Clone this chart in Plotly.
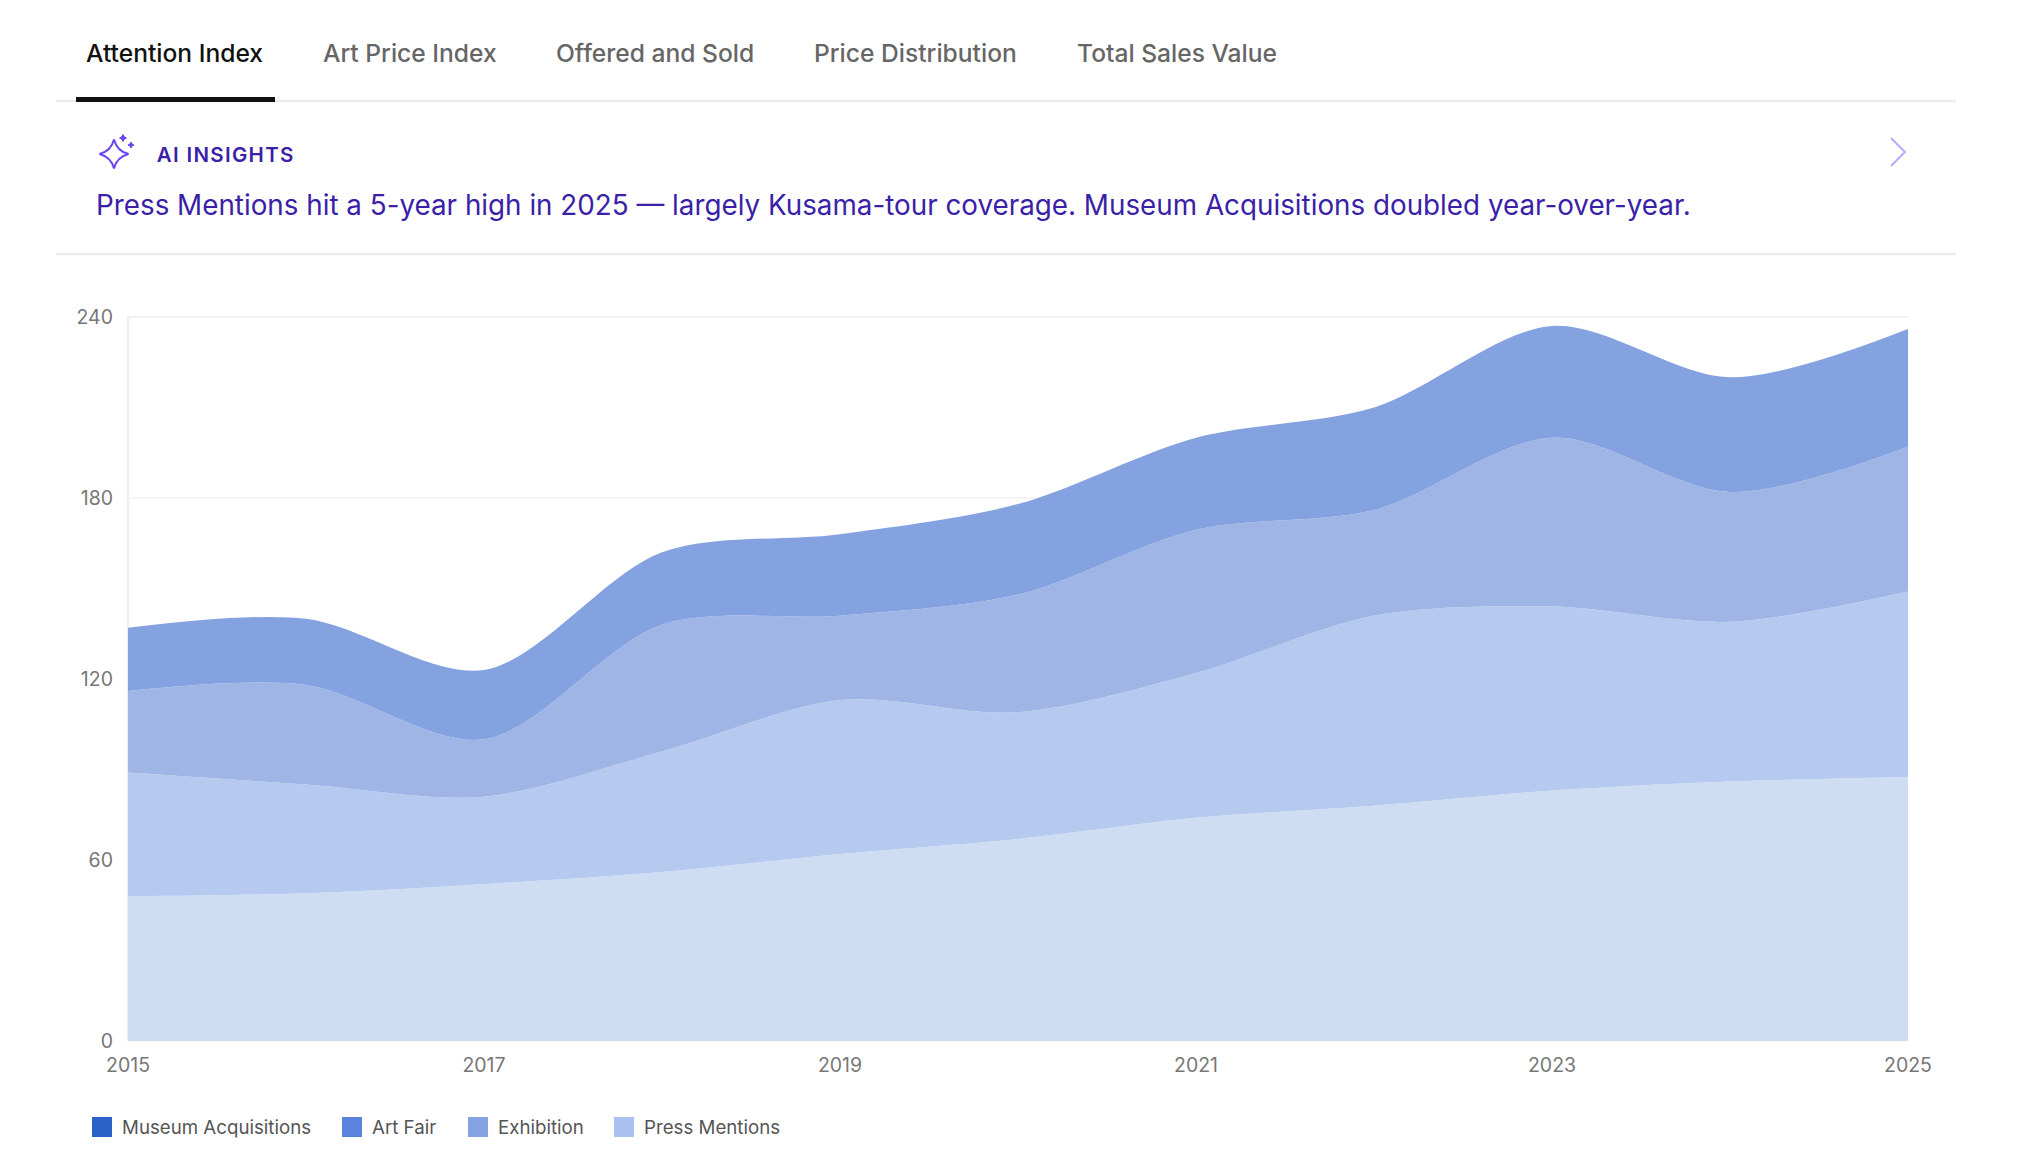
import plotly.graph_objects as go

years = [2015, 2016, 2017, 2018, 2019, 2020, 2021, 2022, 2023, 2024, 2025]
press_mentions = [48, 49, 52, 56, 62, 67, 74, 78, 83, 86, 87.5]
exhibition = [41, 36, 29, 40, 51, 42, 48, 63, 61, 53, 61.5]
art_fair = [27, 33, 19, 42, 28, 39, 47.5, 35, 56, 43, 48]
museum_acquisitions = [21, 22, 23, 24, 27, 30, 30.5, 34, 37, 38, 39]

series_names = ["Press Mentions", "Exhibition", "Art Fair", "Museum Acquisitions"]
series_values = [press_mentions, exhibition, art_fair, museum_acquisitions]
fill_colors = ["rgba(205,220,243,0.96)", "rgba(180,200,239,0.97)", "rgba(156,180,230,0.98)", "rgba(131,160,224,0.99)"]

tick_years = [2015, 2017, 2019, 2021, 2023, 2025]
tick_values = [0, 60, 120, 180, 240]

tabs = ["Attention Index", "Art Price Index", "Offered and Sold", "Price Distribution", "Total Sales Value"]
tab_x = [83.5, 321, 553.5, 811.5, 1075]
legend_items = ["Museum Acquisitions", "Art Fair", "Exhibition", "Press Mentions"]
legend_colors = ["#2b62c8", "#5a84d9", "#85a3e2", "#a9c1ee"]
legend_swatch_x = [92, 342, 468, 614]

FONT = "Inter"
W, H = 2020, 1168
L, R, T, B = 128, 1908, 317, 1041


def px(x):
    return (x - L) / (R - L)


def py(y):
    return (B - y) / (B - T)


def path(points):
    return " ".join(points)


fig = go.Figure()
for name, vals, col in zip(series_names, series_values, fill_colors):
    fig.add_trace(go.Scatter(
        x=years, y=vals, name=name, stackgroup="one", mode="lines",
        line=dict(width=0, shape="spline", smoothing=0.9),
        fillcolor=col, showlegend=False,
    ))

ann = []
for i, (t, x) in enumerate(zip(tabs, tab_x)):
    ann.append(dict(x=px(x), y=py(53), text=t, xanchor="left", yanchor="middle", showarrow=False,
                    xref="paper", yref="paper",
                    font=dict(family=FONT, size=24.6, weight=500, color="#111111" if i == 0 else "#666666")))
ann.append(dict(x=px(161.5), y=py(154), text="AI INSIGHTS", xanchor="left", yanchor="middle", showarrow=False,
                xref="paper", yref="paper", font=dict(family=FONT, size=20.5, weight=600, color="#3b1fa8")))
ann.append(dict(x=px(93.5), y=py(204.5), text="Press Mentions hit a 5-year high in 2025 — largely Kusama-tour coverage. Museum Acquisitions doubled year-over-year.",
                xanchor="left", yanchor="middle", showarrow=False, xref="paper", yref="paper",
                font=dict(family=FONT, size=27.8, color="#3b1fa8")))
for t, x in zip(legend_items, legend_swatch_x):
    ann.append(dict(x=px(x + 27.5), y=py(1127), text=t, xanchor="left", yanchor="middle", showarrow=False,
                    xref="paper", yref="paper", font=dict(family=FONT, size=18.7, color="#555555")))

shapes = [
    dict(type="line", xref="paper", yref="paper", x0=px(56), x1=px(1956), y0=py(101), y1=py(101),
         line=dict(color="#ececec", width=2.5)),
    dict(type="line", xref="paper", yref="paper", x0=px(56), x1=px(1956), y0=py(254), y1=py(254),
         line=dict(color="#ececec", width=2.5)),
    dict(type="rect", xref="paper", yref="paper", x0=px(76), x1=px(275), y0=py(97), y1=py(102),
         fillcolor="#111111", line=dict(width=0)),
    dict(type="line", xref="paper", yref="paper", x0=0, x1=0, y0=0, y1=1, layer="below",
         line=dict(color="#f0f0f0", width=2.5)),
    dict(type="line", xref="paper", yref="paper", x0=0, x1=1, y0=1, y1=1, layer="below",
         line=dict(color="#f2f2f2", width=2)),
    dict(type="path", xref="paper", yref="paper",
         path=path([f"M{px(1891)},{py(138)}", f"L{px(1905)},{py(152)}", f"L{px(1891)},{py(166)}"]),
         line=dict(color="#b5a6ff", width=1.8)),
]


def star(cx, cy, r):
    k = 0.2 * r
    return path([
        f"M{px(cx)},{py(cy - r)}", f"Q{px(cx + k)},{py(cy - k)} {px(cx + r)},{py(cy)}",
        f"Q{px(cx + k)},{py(cy + k)} {px(cx)},{py(cy + r)}",
        f"Q{px(cx - k)},{py(cy + k)} {px(cx - r)},{py(cy)}",
        f"Q{px(cx - k)},{py(cy - k)} {px(cx)},{py(cy - r)} Z",
    ])


shapes.append(dict(type="path", xref="paper", yref="paper", path=star(114, 154, 14.5), line=dict(color="#6a45f0", width=2)))
shapes.append(dict(type="path", xref="paper", yref="paper", path=star(123, 138, 3.5), fillcolor="#6a45f0", line=dict(color="#6a45f0", width=1)))
shapes.append(dict(type="path", xref="paper", yref="paper", path=star(131, 145, 3), fillcolor="#6a45f0", line=dict(color="#6a45f0", width=1)))
for c, x in zip(legend_colors, legend_swatch_x):
    shapes.append(dict(type="rect", xref="paper", yref="paper", x0=px(x), x1=px(x + 20), y0=py(1117), y1=py(1137),
                       fillcolor=c, line=dict(width=0)))

fig.update_layout(
    width=W, height=H, autosize=False,
    margin=dict(l=L, r=W - R, t=T, b=H - B),
    paper_bgcolor="#ffffff", plot_bgcolor="#ffffff",
    annotations=ann, shapes=shapes,
    xaxis=dict(range=[2015, 2025], tickvals=tick_years, ticktext=[str(y) for y in tick_years],
               showgrid=False, zeroline=False, showline=False, ticks="", ticklen=0, ticklabelstandoff=10,
               tickfont=dict(family=FONT, size=19.5, color="#777777")),
    yaxis=dict(range=[0, 240], tickvals=tick_values, showgrid=True, gridcolor="#f5f5f5", gridwidth=2,
               zeroline=False, showline=False, ticks="", ticklabelstandoff=14,
               tickfont=dict(family=FONT, size=19.5, color="#777777")),
)
post = """
document.body.style.margin='0';
var sp=function(){document.querySelectorAll('.annotation-text').forEach(function(e){
  if(e.textContent==='AI INSIGHTS'){e.style.letterSpacing='1.3px';}});};
sp();
document.getElementById('{plot_id}').on('plotly_afterplot',sp);
"""
fig.write_html("out.html", config=dict(displayModeBar=False), post_script=post)
